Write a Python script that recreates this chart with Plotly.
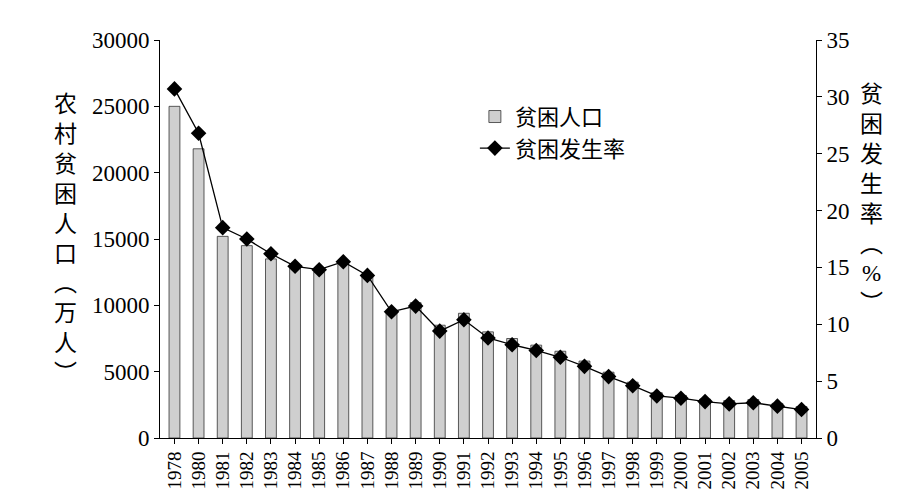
import plotly.graph_objects as go

years = ["1978", "1980", "1981", "1982", "1983", "1984", "1985", "1986", "1987", "1988",
         "1989", "1990", "1991", "1992", "1993", "1994", "1995", "1996", "1997", "1998",
         "1999", "2000", "2001", "2002", "2003", "2004", "2005"]
poor_pop = [25000, 21800, 15200, 14500, 13500, 12800, 12500, 13100, 12200, 9600,
            10200, 8500, 9400, 8000, 7500, 7000, 6540, 5800, 4960, 4210,
            3412, 3209, 2927, 2820, 2900, 2610, 2365]
poor_rate = [30.7, 26.8, 18.5, 17.5, 16.2, 15.1, 14.8, 15.5, 14.3, 11.1,
             11.6, 9.4, 10.4, 8.8, 8.2, 7.7, 7.1, 6.3, 5.4, 4.6,
             3.7, 3.5, 3.2, 3.0, 3.1, 2.8, 2.5]

font = "Liberation Serif, Noto Sans CJK SC"

fig = go.Figure()
fig.add_trace(go.Bar(x=years, y=poor_pop, name="贫困人口", width=0.45,
                     marker=dict(color="#cfcfcf", line=dict(color="#333", width=0.8))))
fig.add_trace(go.Scatter(x=years, y=poor_rate, name="贫困发生率", yaxis="y2",
                         mode="lines+markers", line=dict(color="black", width=1.3),
                         marker=dict(symbol="diamond", size=12, color="black")))

axis = dict(showline=True, linecolor="black", linewidth=1, ticks="outside",
            tickcolor="black", showgrid=False, zeroline=False,
            tickfont=dict(size=23, family=font, color="black"))
fig.update_layout(
    width=908, height=500, template="simple_white",
    margin=dict(l=152, r=100, t=32, b=70),
    font=dict(family=font, color="black"),
    xaxis=dict(axis, tickangle=-90, range=[-0.6, 26.6],
               tickfont=dict(size=19, family=font, color="black")),
    yaxis=dict(axis, range=[0, 30000], dtick=5000, tickformat="d"),
    yaxis2=dict(axis, range=[0, 35], dtick=5, overlaying="y", side="right"),
    legend=dict(x=0.48, y=0.86, xanchor="left", yanchor="top",
                font=dict(size=22, family=font), bgcolor="rgba(0,0,0,0)"),
    showlegend=True,
)
fig.add_annotation(text="<br>".join("农村贫困人口") + "<br>︵<br>万<br>人<br>︶",
                   xref="paper", yref="paper", x=-0.165, y=0.5, showarrow=False,
                   font=dict(size=23, family=font), align="center")
fig.add_annotation(text="<br>".join("贫困发生率") + "<br>︵<br>%<br>︶",
                   xref="paper", yref="paper", x=1.105, y=0.6, showarrow=False,
                   font=dict(size=23, family=font), align="center")
fig.write_html("out.html")
